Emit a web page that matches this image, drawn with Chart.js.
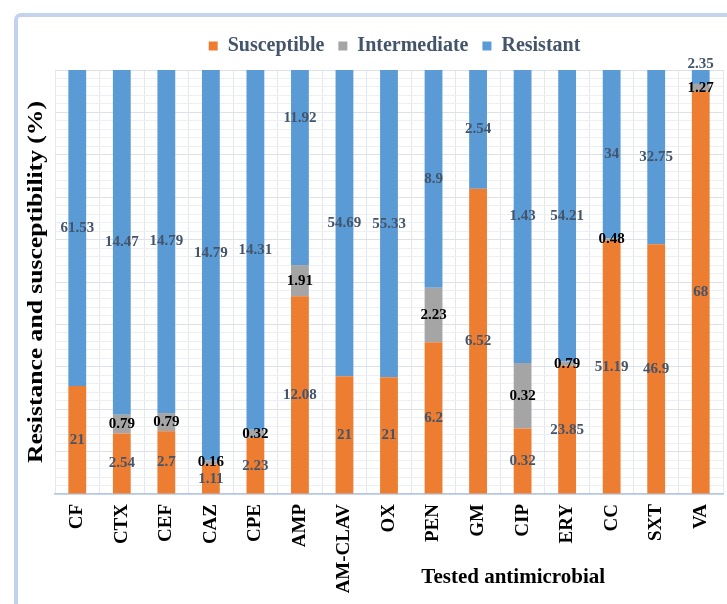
<!DOCTYPE html>
<html>
<head>
<meta charset="utf-8">
<title>Resistance and susceptibility</title>
<script src="https://cdn.jsdelivr.net/npm/chart.js@4.4.1/dist/chart.umd.min.js"></script>
<style>
  html, body { margin: 0; padding: 0; background: #ffffff; overflow: hidden; }
  #wrap { position: relative; width: 727px; height: 604px; overflow: hidden; background: #ffffff; }
  #frame {
    position: absolute; left: 14px; top: 13px; width: 780px; height: 680px;
    border: 4px solid #c3d3ee; border-radius: 7px; box-sizing: border-box;
  }
  #c { position: absolute; left: 0; top: 0; }
</style>
</head>
<body>
<div id="wrap">
  <div id="frame"></div>
  <canvas id="c" width="727" height="604"></canvas>
</div>
<script>
// Antimicrobials tested
const antimicrobials = ['CF', 'CTX', 'CEF', 'CAZ', 'CPE', 'AMP', 'AM-CLAV', 'OX',
                        'PEN', 'GM', 'CIP', 'ERY', 'CC', 'SXT', 'VA'];

// Reported values per outcome (null = not reported)
const susceptible  = [21, 2.54, 2.7, 1.11, 2.23, 12.08, 21, 21, 6.2, 6.52, 0.32, 23.85, 51.19, 46.9, 68];
const intermediate = [null, 0.79, 0.79, 0.16, 0.32, 1.91, null, null, 2.23, null, 0.32, 0.79, 0.48, null, 1.27];
const resistant    = [61.53, 14.47, 14.79, 14.79, 14.31, 11.92, 54.69, 55.33, 8.9, 2.54, 1.43, 54.21, 34, 32.75, 2.35];

const seriesNames = ['Susceptible', 'Intermediate', 'Resistant'];

// Each column is drawn as a 100% stack: every value's share of its column total
const totals = antimicrobials.map((_, i) =>
  (susceptible[i] || 0) + (intermediate[i] || 0) + (resistant[i] || 0));
const share = arr => arr.map((v, i) => v == null ? null : v / totals[i] * 100);

const SERIF = '"Liberation Serif", "Times New Roman", serif';

// Value labels in the middle of each segment, a few lifted to keep them clear
const labelNudge = { '2:5': -49, '2:14': -13, '2:3': -12 };
const valueLabels = {
  id: 'valueLabels',
  afterDatasetsDraw(chart) {
    const ctx = chart.ctx;
    const raw = [susceptible, intermediate, resistant];
    const colors = ['#44546A', '#000000', '#44546A'];
    ctx.save();
    ctx.font = 'bold 15px ' + SERIF;
    ctx.textAlign = 'center';
    ctx.textBaseline = 'middle';
    chart.data.datasets.forEach((ds, di) => {
      const meta = chart.getDatasetMeta(di);
      meta.data.forEach((el, i) => {
        const v = raw[di][i];
        if (v == null) return;
        const p = el.getProps(['x', 'y', 'base'], true);
        const y = (p.y + p.base) / 2 + (labelNudge[di + ':' + i] || 0);
        ctx.fillStyle = colors[di];
        ctx.fillText(String(v), p.x, y);
      });
    });
    ctx.restore();
  }
};

// Axis titles: the value-axis title runs up the left side in a tall, narrow face,
// the category-axis title sits toward the right under the tick labels
const axisTitles = {
  id: 'axisTitles',
  afterDraw(chart) {
    const a = chart.chartArea;
    const ctx = chart.ctx;
    ctx.save();
    ctx.fillStyle = '#000000';
    ctx.textAlign = 'center';
    ctx.textBaseline = 'middle';
    ctx.font = 'bold 21px ' + SERIF;
    ctx.fillText('Tested antimicrobial', a.left + (a.right - a.left) * 0.686, 578);
    ctx.translate(37, (a.top + a.bottom) / 2);
    ctx.rotate(-Math.PI / 2);
    ctx.scale(1.28, 1);
    ctx.font = 'bold 20px ' + SERIF;
    ctx.fillText('Resistance and susceptibility (%)', 0, 0);
    ctx.restore();
  }
};

// A little extra room under the legend, and the legend centred over the plot
const legendPlace = {
  id: 'legendPlace',
  beforeLayout(chart) {
    const lg = chart.legend;
    if (lg && !lg._gapAdded) {
      const fit = lg.fit;
      lg.fit = function () { fit.call(this); this.height += 4; };
      lg._gapAdded = true;
    }
  },
  afterLayout(chart) {
    const lg = chart.legend;
    if (lg) { lg.left += 23; lg.right += 23; }
  }
};

new Chart(document.getElementById('c'), {
  type: 'bar',
  data: {
    labels: antimicrobials,
    datasets: [
      { label: seriesNames[0], data: share(susceptible),  backgroundColor: '#ED7D31' },
      { label: seriesNames[1], data: share(intermediate), backgroundColor: '#A5A5A5' },
      { label: seriesNames[2], data: share(resistant),    backgroundColor: '#5B9BD5' }
    ]
  },
  options: {
    responsive: false,
    animation: false,
    devicePixelRatio: 1,
    layout: { padding: { left: 20, right: 4, top: 22, bottom: 0 } },
    datasets: { bar: { categoryPercentage: 1.0, barPercentage: 0.4, borderWidth: 0 } },
    scales: {
      x: {
        stacked: true,
        afterFit(scale) { scale.height = 110; scale.paddingLeft = 0; scale.paddingRight = 0; },
        grid: { display: true, offset: true, color: '#e3e7ee', lineWidth: 1, drawTicks: false },
        border: { display: true, color: '#b4c7e7', width: 1.5 },
        ticks: {
          autoSkip: false, minRotation: 90, maxRotation: 90, padding: 10,
          color: '#000000', font: { family: SERIF, size: 19, weight: 'bold' }
        }
      },
      y: {
        stacked: true,
        min: 0, max: 100,
        afterFit(scale) { scale.width = 35; },
        ticks: { display: false, stepSize: 2 },
        grid: {
          drawTicks: false,
          color: ctx => (ctx.tick && Math.round(ctx.tick.value) % 10 === 0) ? '#dde2ea' : '#eceff4',
          lineWidth: 1
        },
        border: { display: false },
        title: { display: false }
      }
    },
    plugins: {
      legend: {
        display: true,
        position: 'top',
        labels: {
          boxWidth: 9, boxHeight: 9, padding: 14,
          color: '#44546A',
          font: { family: SERIF, size: 20, weight: 'bold' }
        }
      },
      tooltip: { enabled: false }
    }
  },
  plugins: [valueLabels, axisTitles, legendPlace]
});
</script>
</body>
</html>
